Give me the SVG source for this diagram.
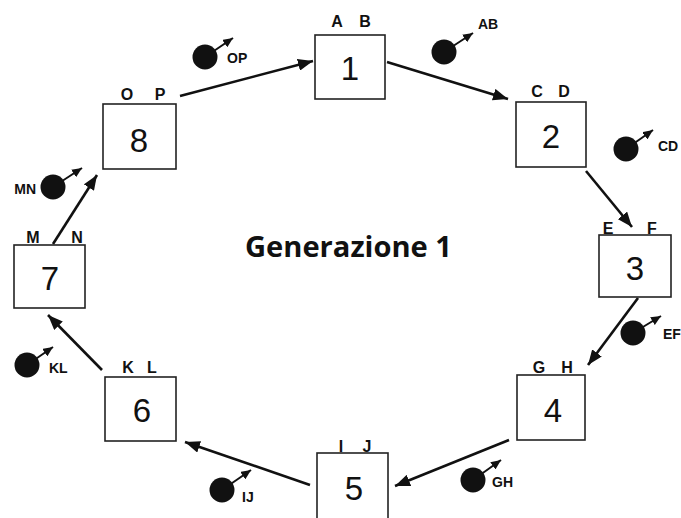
<svg xmlns="http://www.w3.org/2000/svg" width="681" height="518" viewBox="0 0 681 518">
<style>
.box{fill:#fff;stroke:#222;stroke-width:1.6}
.num{font-family:"Liberation Sans",Arial,sans-serif;font-size:33px;fill:#111;text-anchor:middle}
.lbl{font-family:"Liberation Sans",Arial,sans-serif;font-size:16px;font-weight:bold;fill:#111;text-anchor:middle}
.bl{font-family:"Liberation Sans",Arial,sans-serif;font-size:14px;font-weight:bold;fill:#111}
.arr{stroke:#111;stroke-width:2.6;fill:none;marker-end:url(#ah)}
.barr{stroke:#111;stroke-width:2;fill:none;marker-end:url(#sh)}
.ball{fill:#111}
.title{font-family:"Open Sans","Liberation Sans",sans-serif;font-size:28px;font-weight:bold;fill:#111}
</style>
<defs>
<marker id="ah" markerUnits="userSpaceOnUse" markerWidth="16" markerHeight="12" refX="15" refY="6" orient="auto">
<path d="M0,0 L15,6 L0,12 Z" fill="#111"/>
</marker>
<marker id="sh" markerUnits="userSpaceOnUse" markerWidth="11" markerHeight="9" refX="10" refY="4.5" orient="auto">
<path d="M0,0 L10,4.5 L0,9 Z" fill="#111"/>
</marker>
</defs>
<rect width="681" height="518" fill="#fff"/>
<g id="connectors">
<line class="arr" x1="180" y1="96" x2="313" y2="61"/>
<line class="arr" x1="387" y1="62" x2="508" y2="99"/>
<line class="arr" x1="586" y1="171" x2="632" y2="227"/>
<line class="arr" x1="638" y1="298" x2="588" y2="365"/>
<line class="arr" x1="509" y1="440" x2="395" y2="486"/>
<line class="arr" x1="310" y1="485" x2="185" y2="442"/>
<line class="arr" x1="102" y1="370" x2="48" y2="315"/>
<line class="arr" x1="53" y1="244" x2="97" y2="175"/>
</g>
<g id="node1"><rect class="box" x="315" y="35" width="70" height="64"/><text class="num" x="350" y="80">1</text><text class="lbl" y="27"><tspan x="337">A</tspan><tspan x="365">B</tspan></text></g>
<g id="node2"><rect class="box" x="516" y="102" width="70" height="65"/><text class="num" x="551" y="148">2</text><text class="lbl" y="97"><tspan x="537">C</tspan><tspan x="564">D</tspan></text></g>
<g id="node3"><rect class="box" x="599" y="235" width="72" height="62"/><text class="num" x="635" y="280">3</text><text class="lbl" y="234"><tspan x="608">E</tspan><tspan x="652">F</tspan></text></g>
<g id="node4"><rect class="box" x="517" y="375" width="68" height="65"/><text class="num" x="553" y="422">4</text><text class="lbl" y="373"><tspan x="539">G</tspan><tspan x="567">H</tspan></text></g>
<g id="node5"><rect class="box" x="317" y="453" width="71" height="70"/><text class="num" x="354" y="500">5</text><text class="lbl" y="452"><tspan x="341">I</tspan><tspan x="367">J</tspan></text></g>
<g id="node6"><rect class="box" x="105" y="377" width="71" height="64"/><text class="num" x="142" y="422">6</text><text class="lbl" y="373"><tspan x="128">K</tspan><tspan x="152">L</tspan></text></g>
<g id="node7"><rect class="box" x="14" y="245" width="71" height="63"/><text class="num" x="50" y="290">7</text><text class="lbl" y="243"><tspan x="33">M</tspan><tspan x="77">N</tspan></text></g>
<g id="node8"><rect class="box" x="103" y="104" width="73" height="65"/><text class="num" x="139" y="152">8</text><text class="lbl" y="100"><tspan x="127">O</tspan><tspan x="160">P</tspan></text></g>
<g id="gametes">
<g id="gOP"><line class="barr" x1="205" y1="57" x2="233" y2="38"/><circle class="ball" cx="205" cy="57" r="12.5"/><text class="bl" x="227" y="63">OP</text></g>
<g id="gAB"><line class="barr" x1="444" y1="52" x2="473" y2="33"/><circle class="ball" cx="444" cy="52" r="12.5"/><text class="bl" x="478" y="29">AB</text></g>
<g id="gCD"><line class="barr" x1="626" y1="149" x2="653" y2="130"/><circle class="ball" cx="626" cy="149" r="12.5"/><text class="bl" x="658" y="151">CD</text></g>
<g id="gEF"><line class="barr" x1="633" y1="333" x2="661" y2="316"/><circle class="ball" cx="633" cy="333" r="12.5"/><text class="bl" x="663" y="339">EF</text></g>
<g id="gGH"><line class="barr" x1="473" y1="480" x2="501" y2="460"/><circle class="ball" cx="473" cy="480" r="12.5"/><text class="bl" x="492" y="487">GH</text></g>
<g id="gIJ"><line class="barr" x1="222" y1="490" x2="251" y2="470"/><circle class="ball" cx="222" cy="490" r="12.5"/><text class="bl" x="242" y="502">IJ</text></g>
<g id="gKL"><line class="barr" x1="27" y1="365" x2="53" y2="347"/><circle class="ball" cx="27" cy="365" r="12.5"/><text class="bl" x="49" y="373">KL</text></g>
<g id="gMN"><line class="barr" x1="53" y1="187" x2="82" y2="168"/><circle class="ball" cx="53" cy="187" r="12.5"/><text class="bl" x="36" y="194" text-anchor="end">MN</text></g>
</g>
<text id="title" class="title" x="245" y="257" textLength="207" lengthAdjust="spacingAndGlyphs">Generazione 1</text>
</svg>
